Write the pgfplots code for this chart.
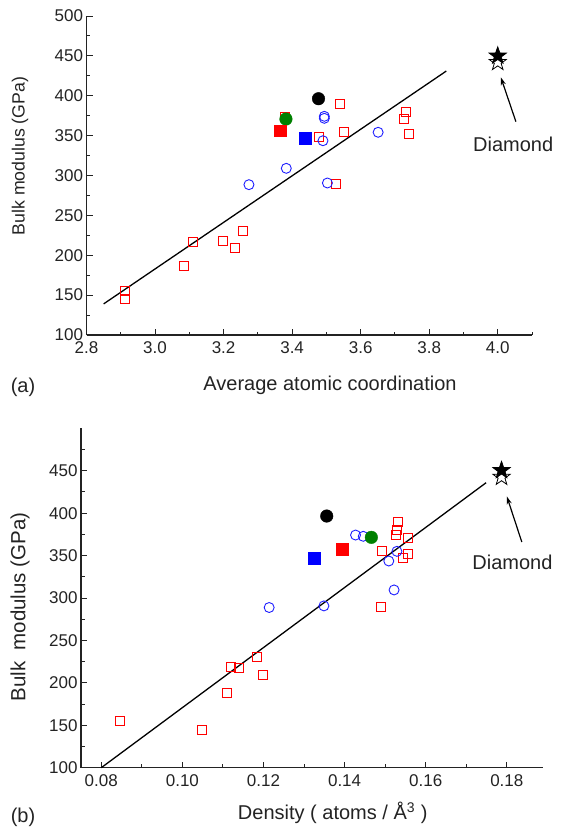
\documentclass[border=0pt]{standalone}
\usepackage{fontspec}
\setmainfont{Liberation Sans}
\usepackage{pgfplots}
\pgfplotsset{compat=1.18}
\usetikzlibrary{arrows.meta}
\definecolor{cblue}{RGB}{30,30,255}
\definecolor{cred}{RGB}{255,0,0}
\definecolor{cgreen}{RGB}{0,128,0}
\definecolor{axc}{RGB}{35,35,35}
\pgfdeclareplotmark{pentastar}{%
  \pgfpathmoveto{\pgfpointpolar{90}{\pgfplotmarksize}}%
  \pgfpathlineto{\pgfpointpolar{126}{0.40\pgfplotmarksize}}%
  \pgfpathlineto{\pgfpointpolar{162}{\pgfplotmarksize}}%
  \pgfpathlineto{\pgfpointpolar{198}{0.40\pgfplotmarksize}}%
  \pgfpathlineto{\pgfpointpolar{234}{\pgfplotmarksize}}%
  \pgfpathlineto{\pgfpointpolar{270}{0.40\pgfplotmarksize}}%
  \pgfpathlineto{\pgfpointpolar{306}{\pgfplotmarksize}}%
  \pgfpathlineto{\pgfpointpolar{342}{0.40\pgfplotmarksize}}%
  \pgfpathlineto{\pgfpointpolar{18}{\pgfplotmarksize}}%
  \pgfpathlineto{\pgfpointpolar{54}{0.40\pgfplotmarksize}}%
  \pgfpathclose
  \pgfusepathqfillstroke
}
\pgfplotsset{
  base/.style={
    scale only axis,
    axis x line=bottom, axis y line=left,
    axis line style={-, line width=1.1pt, axc},
    tick align=inside,
    major tick length=6pt, minor tick length=3.5pt,
    every tick/.style={axc, line width=1pt},
    tick label style={font=\fontsize{17}{20}\selectfont, text=axc},
    xticklabel style={yshift=-3pt},
    /pgf/number format/assume math mode=true,
    clip=false, ymin=100, ymax=500,
  },
  rsq/.style={only marks, mark=square, mark size=4.5pt, mark options={draw=cred, line width=0.9pt}},
  bci/.style={only marks, mark=o, mark size=5pt, mark options={draw=cblue, line width=0.9pt}},
  blk/.style={only marks, mark=*, mark size=6.3pt, mark options={draw=black, fill=black}},
  grn/.style={only marks, mark=*, mark size=6.3pt, mark options={draw=cgreen, fill=cgreen}},
  rfs/.style={only marks, mark=square*, mark size=5.8pt, mark options={draw=cred, fill=cred}},
  bfs/.style={only marks, mark=square*, mark size=6pt, mark options={draw=blue, fill=blue}},
  ost/.style={only marks, mark=pentastar, mark size=9pt, mark options={draw=black, fill=white, line width=0.8pt}},
  fst/.style={only marks, mark=pentastar, mark size=9pt, mark options={draw=black, fill=black, line width=0.8pt}},
  fit/.style={black, line width=1.3pt, no marks},
}
\begin{document}
\begin{tikzpicture}
\useasboundingbox (0,0) rectangle (562pt,-829pt);
% ---------------- panel (a)
\begin{axis}[base,
  at={(86.5pt,-335pt)}, anchor=south west,
  width=445.5pt, height=319pt,
  xmin=2.8, xmax=4.1,
  xtick={2.8,3.0,3.2,3.4,3.6,3.8,4.0},
  minor xtick={2.9,3.1,3.3,3.5,3.7,3.9,4.1},
  ytick={100,150,...,500},
  minor ytick={125,175,...,475},
  xticklabel style={/pgf/number format/.cd, fixed, fixed zerofill, precision=1},
]
\addplot[fit] coordinates {(2.85,139) (3.85,431)};
\addplot[rsq] coordinates {(2.912,155.2)(2.912,144.8)(3.110,216.6)(3.083,186.9)(3.199,218.3)(3.232,208.7)(3.256,230.4)(3.380,373.7)(3.478,347.9)(3.540,389.3)(3.551,354.5)(3.527,289.7)(3.733,379.6)(3.727,370.4)(3.740,352.0)};
\addplot[bci] coordinates {(3.274,288.5)(3.383,309.0)(3.494,374.2)(3.494,371.7)(3.490,343.6)(3.503,290.6)(3.651,354.2)};
\addplot[blk] coordinates {(3.477,396.3)};
\addplot[grn] coordinates {(3.382,370.8)};
\addplot[rfs] coordinates {(3.365,356.2)};
\addplot[bfs] coordinates {(3.437,347.4)};
\addplot[ost] coordinates {(4.0,442)};
\addplot[fst] coordinates {(4.0,450)};
\draw[-{Stealth[length=8pt,width=5pt]}, line width=1.2pt, black] (axis cs:4.053,367.5) -- (axis cs:4.009,423.2);
\node[font=\fontsize{20}{24}\selectfont, text=axc] at (axis cs:4.045,339.5) {Diamond};
\end{axis}
\node[rotate=90, font=\fontsize{17.7}{21}\selectfont, text=axc] at (20pt,-156pt) {Bulk modulus (GPa)};
\node[font=\fontsize{20}{24}\selectfont, text=axc] at (330pt,-385pt) {Average atomic coordination};
\node[font=\fontsize{20}{24}\selectfont, text=axc] at (23pt,-387pt) {(a)};
% ---------------- panel (b)
\begin{axis}[base,
  at={(81pt,-767.7pt)}, anchor=south west,
  width=462.3pt, height=339.4pt,
  xmin=0.075, xmax=0.189,
  xtick={0.08,0.10,0.12,0.14,0.16,0.18},
  minor xtick={0.09,0.11,0.13,0.15,0.17},
  ytick={100,150,...,450},
  minor ytick={125,175,...,475},
  xticklabel style={/pgf/number format/.cd, fixed, fixed zerofill, precision=2},
]
\addplot[fit] coordinates {(0.08,100) (0.1749,435.9)};
\addplot[rsq] coordinates {(0.0846,155.3)(0.1049,144.4)(0.1111,187.6)(0.1120,218.9)(0.1140,217.7)(0.1184,230.6)(0.1199,209.1)(0.1490,289.5)(0.1493,355.0)(0.1531,389.5)(0.1529,379.7)(0.1527,373.9)(0.1555,371.2)(0.1544,347.6)(0.1556,352.3)};
\addplot[bci] coordinates {(0.1214,288.8)(0.1349,290.7)(0.1427,374.2)(0.1446,372.7)(0.1529,355.0)(0.1509,343.6)(0.1522,309.5)};
\addplot[blk] coordinates {(0.1356,396.6)};
\addplot[grn] coordinates {(0.1466,371.5)};
\addplot[rfs] coordinates {(0.1394,357.4)};
\addplot[bfs] coordinates {(0.1325,347.1)};
\addplot[ost] coordinates {(0.1787,442.5)};
\addplot[fst] coordinates {(0.1787,450.4)};
\draw[-{Stealth[length=8pt,width=5pt]}, line width=1.2pt, black] (axis cs:0.1837,366) -- (axis cs:0.1800,419.8);
\node[font=\fontsize{20}{24}\selectfont, text=axc] at (axis cs:0.1814,342.4) {Diamond};
\end{axis}
\node[rotate=90, font=\fontsize{20.5}{24}\selectfont, text=axc] at (20pt,-607pt) {Bulk\ \ modulus (GPa)};
\node[font=\fontsize{20}{24}\selectfont, text=axc] at (332.7pt,-813pt) {Density ( atoms / Å\textsuperscript{3} )};
\node[font=\fontsize{20}{24}\selectfont, text=axc] at (23pt,-817pt) {(b)};
\end{tikzpicture}
\end{document}
